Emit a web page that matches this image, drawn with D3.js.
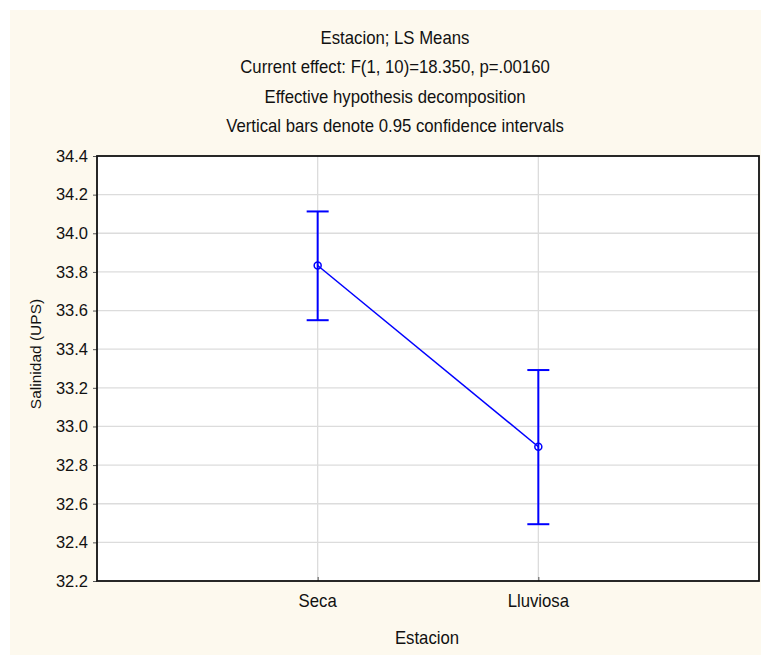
<!DOCTYPE html>
<html><head><meta charset="utf-8">
<script src="https://cdn.jsdelivr.net/npm/d3@7"></script>
<style>
html,body{margin:0;padding:0;background:#fff;}
svg{display:block;}
</style></head>
<body>
<svg id="chart" width="761" height="655"></svg>
<script>
const categories = ["Seca", "Lluviosa"];
const means = [33.833, 32.895];
const upper = [34.113, 33.292];
const lower = [33.550, 32.494];
const yTicks = [32.2, 32.4, 32.6, 32.8, 33.0, 33.2, 33.4, 33.6, 33.8, 34.0, 34.2, 34.4];
const titleLines = [
  "Estacion; LS Means",
  "Current effect: F(1, 10)=18.350, p=.00160",
  "Effective hypothesis decomposition",
  "Vertical bars denote 0.95 confidence intervals"
];
const xLabel = "Estacion";
const yLabel = "Salinidad (UPS)";

const svg = d3.select("#chart");
const W = 761, H = 655;
const m = {left: 97, right: 759, top: 156, bottom: 581};
const sans = "'Liberation Sans', Arial, sans-serif";
const SX = 0.93;

svg.append("rect").attr("x", 10).attr("y", 10).attr("width", W - 10).attr("height", H - 10)
  .attr("fill", "#fdf9ee");

const x = d3.scaleLinear().domain([0, categories.length + 1]).range([m.left, m.right]);
const y = d3.scaleLinear().domain([32.2, 34.4]).range([m.bottom, m.top]);

svg.append("rect").attr("x", m.left).attr("y", m.top)
  .attr("width", m.right - m.left).attr("height", m.bottom - m.top).attr("fill", "#fff");

// grid
svg.append("g").selectAll("line").data(yTicks.slice(1, -1)).join("line")
  .attr("x1", m.left).attr("x2", m.right)
  .attr("y1", d => y(d)).attr("y2", d => y(d))
  .attr("stroke", "#dcdcdc").attr("stroke-width", 1.3);
svg.append("g").selectAll("line").data(categories).join("line")
  .attr("x1", (d, i) => x(i + 1)).attr("x2", (d, i) => x(i + 1))
  .attr("y1", m.top).attr("y2", m.bottom)
  .attr("stroke", "#dcdcdc").attr("stroke-width", 1.3);

// axes
const yAxis = d3.axisLeft(y).tickValues(yTicks).tickFormat(d3.format(".1f")).tickSize(4).tickPadding(5);
const gy = svg.append("g").attr("transform", `translate(${m.left},0)`).call(yAxis);
gy.select(".domain").remove();
gy.selectAll("line").attr("stroke", "#555");
gy.selectAll("text").attr("font-family", sans).attr("font-size", 16.5).attr("fill", "#111");

const xAxis = d3.axisBottom(x).tickValues(categories.map((d, i) => i + 1))
  .tickFormat(() => "").tickSize(-4);
const gx = svg.append("g").attr("transform", `translate(0,${m.bottom})`).call(xAxis);
gx.select(".domain").remove();
gx.selectAll("line").attr("stroke", "#555");

svg.append("g").selectAll("text").data(categories).join("text")
  .attr("transform", (d, i) => `translate(${x(i + 1)},607) scale(${SX},1)`)
  .attr("text-anchor", "middle").attr("font-family", sans).attr("font-size", 18).attr("fill", "#111")
  .text(d => d);

// frame
svg.append("rect").attr("x", m.left).attr("y", m.top)
  .attr("width", m.right - m.left).attr("height", m.bottom - m.top)
  .attr("fill", "none").attr("stroke", "#111").attr("stroke-width", 1.8);

// titles
svg.append("g").selectAll("text").data(titleLines).join("text")
  .attr("transform", (d, i) => `translate(395,${44 + i * 29.3}) scale(${SX},1)`)
  .attr("text-anchor", "middle").attr("font-family", sans).attr("font-size", 18).attr("fill", "#111")
  .text(d => d);

svg.append("text").attr("transform", `translate(${(m.left + m.right) / 2 - 1},644) scale(${SX},1)`)
  .attr("text-anchor", "middle").attr("font-family", sans).attr("font-size", 18).attr("fill", "#111")
  .text(xLabel);

svg.append("text").attr("transform", `translate(41,354) rotate(-90)`)
  .attr("text-anchor", "middle").attr("font-family", sans).attr("font-size", 15.5).attr("fill", "#111")
  .text(yLabel);

// data
const blue = "#0000ff";
const line = d3.line().x((d, i) => x(i + 1)).y(d => y(d));
svg.append("path").datum(means).attr("d", line).attr("fill", "none")
  .attr("stroke", blue).attr("stroke-width", 1.5);

const eb = svg.append("g").attr("stroke", blue).attr("stroke-width", 2);
categories.forEach((c, i) => {
  const cx = x(i + 1);
  eb.append("line").attr("x1", cx).attr("x2", cx).attr("y1", y(upper[i])).attr("y2", y(lower[i]));
  eb.append("line").attr("x1", cx - 11).attr("x2", cx + 11).attr("y1", y(upper[i])).attr("y2", y(upper[i]));
  eb.append("line").attr("x1", cx - 11).attr("x2", cx + 11).attr("y1", y(lower[i])).attr("y2", y(lower[i]));
});
svg.append("g").selectAll("circle").data(means).join("circle")
  .attr("cx", (d, i) => x(i + 1)).attr("cy", d => y(d)).attr("r", 3.5)
  .attr("fill", "none").attr("stroke", blue).attr("stroke-width", 1.5);
</script>
</body></html>
